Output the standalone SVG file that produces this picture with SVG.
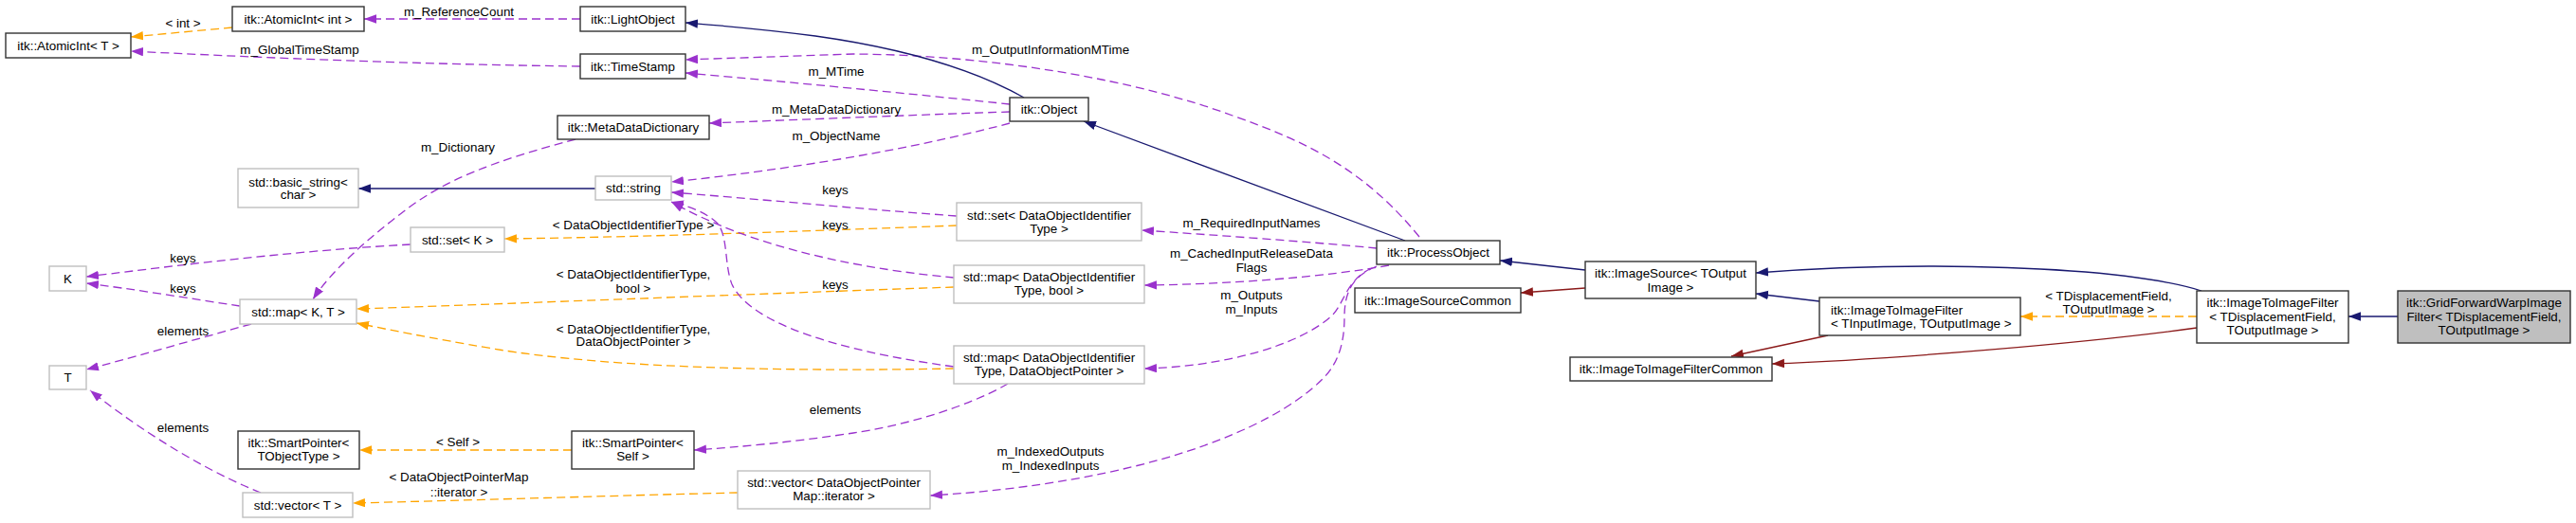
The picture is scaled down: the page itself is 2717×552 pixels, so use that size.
<svg xmlns="http://www.w3.org/2000/svg" width="2717" height="552" viewBox="0 0 2717 552">
<style>
text{font-family:"Liberation Sans",Arial,Helvetica,sans-serif;font-size:13.4px;fill:#000;text-anchor:middle}
.nb rect{fill:#fff;stroke:#333;stroke-width:1.4}
.ng rect{fill:#fff;stroke:#bfbfbf;stroke-width:1.4}
.ns rect{fill:#bfbfbf;stroke:#333;stroke-width:1.4}
.e{fill:none;stroke-width:1.3}
.nav{stroke:#191970;marker-end:url(#aN)}
.red{stroke:#8b1a1a;marker-end:url(#aR)}
.org{stroke:#ffa500;stroke-dasharray:9,5;marker-end:url(#aO)}
.pur{stroke:#9a32cd;stroke-dasharray:9,5;marker-end:url(#aP)}
</style>
<defs>
<marker id="aN" markerUnits="userSpaceOnUse" markerWidth="14" markerHeight="10" refX="13" refY="4.7" orient="auto"><path d="M0,0 L13,4.7 L0,9.4 z" fill="#191970"/></marker>
<marker id="aR" markerUnits="userSpaceOnUse" markerWidth="14" markerHeight="10" refX="13" refY="4.7" orient="auto"><path d="M0,0 L13,4.7 L0,9.4 z" fill="#8b1a1a"/></marker>
<marker id="aO" markerUnits="userSpaceOnUse" markerWidth="14" markerHeight="10" refX="13" refY="4.7" orient="auto"><path d="M0,0 L13,4.7 L0,9.4 z" fill="#ffa500"/></marker>
<marker id="aP" markerUnits="userSpaceOnUse" markerWidth="14" markerHeight="10" refX="13" refY="4.7" orient="auto"><path d="M0,0 L13,4.7 L0,9.4 z" fill="#9a32cd"/></marker>
</defs>
<rect width="2717" height="552" fill="#fff"/>
<g id="connectors">
<path class="e nav" d="M2529,334 L2477,334"/>
<path class="e nav" d="M2322,307 C2280,294 2200,282 2040,281 C1950,281 1890,285 1852,288"/>
<path class="e red" d="M2317,346 C2200,362 2000,379 1869,384"/>
<path class="e org" d="M2317,334 L2131,334"/>
<path class="e nav" d="M1919,318 L1852,310"/>
<path class="e red" d="M1928,354 L1826,376"/>
<path class="e nav" d="M1672,285 L1582,275"/>
<path class="e red" d="M1672,304 L1604,309"/>
<path class="e nav" d="M1482,254 L1143,128"/>
<path class="e pur" d="M1497,250 C1440,180 1380,150 1300,122 C1200,85 1050,58 900,57 L723,63"/>
<path class="e pur" d="M1452,262 C1380,255 1280,248 1204,243"/>
<path class="e pur" d="M1465,280 C1400,292 1300,300 1207,301"/>
<path class="e pur" d="M1447,283 C1420,295 1418,320 1405,333 C1370,365 1290,387 1207,389"/>
<path class="e pur" d="M1452,281 C1425,292 1418,310 1418,335 C1418,365 1410,385 1395,400 C1340,455 1200,510 981,523"/>
<path class="e nav" d="M1080,103 C1030,75 960,52 860,38 C800,30 760,27 723,24"/>
<path class="e pur" d="M1065,110 C1000,103 850,88 723,77"/>
<path class="e pur" d="M1065,118 C1000,120 850,126 748,130"/>
<path class="e pur" d="M1065,130 C990,150 870,175 708,192"/>
<path class="e pur" d="M612,20 L384,20"/>
<path class="e pur" d="M612,70 C450,68 300,62 138,54"/>
<path class="e org" d="M245,29 L138,39"/>
<path class="e pur" d="M607,147 C520,170 470,190 430,220 C390,250 350,285 330,316"/>
<path class="e nav" d="M628,199 L378,199"/>
<path class="e pur" d="M1009,228 C900,220 800,210 708,203"/>
<path class="e org" d="M1009,238 C900,242 700,250 532,252"/>
<path class="e pur" d="M1006,293 C920,285 800,265 708,213"/>
<path class="e org" d="M1006,303 C800,310 500,322 376,326"/>
<path class="e pur" d="M1006,387 C880,370 790,340 772,300 C764,280 768,250 757,236 C745,224 725,217 708,213"/>
<path class="e pur" d="M1063,405 C1020,430 950,450 900,457 C840,466 780,472 732,475"/>
<path class="e org" d="M1006,389 C850,392 650,390 520,368 C450,356 410,348 376,341"/>
<path class="e pur" d="M433,258 C300,265 150,285 91,292"/>
<path class="e pur" d="M253,323 C200,315 140,305 91,299"/>
<path class="e pur" d="M265,342 C200,360 130,380 91,390"/>
<path class="e pur" d="M275,520 C200,490 130,440 95,412"/>
<path class="e org" d="M603,475 L379,475"/>
<path class="e org" d="M778,520 C650,523 500,528 372,531"/>
<g id="edge-labels">
<text x="2224" y="316.5">&lt; TDisplacementField,</text>
<text x="2224" y="330.5">TOutputImage &gt;</text>
<text x="1108" y="56.5">m_OutputInformationMTime</text>
<text x="1320" y="240">m_RequiredInputNames</text>
<text x="1320" y="272">m_CachedInputReleaseData</text>
<text x="1320" y="286.5">Flags</text>
<text x="1320" y="316">m_Outputs</text>
<text x="1320" y="331">m_Inputs</text>
<text x="1108" y="480.5">m_IndexedOutputs</text>
<text x="1108" y="495.5">m_IndexedInputs</text>
<text x="882" y="79.5">m_MTime</text>
<text x="882" y="119.5">m_MetaDataDictionary</text>
<text x="882" y="147.5">m_ObjectName</text>
<text x="484" y="16.5">m_ReferenceCount</text>
<text x="316" y="56.5">m_GlobalTimeStamp</text>
<text x="193" y="28.5">&lt; int &gt;</text>
<text x="483" y="159.5">m_Dictionary</text>
<text x="881" y="204.5">keys</text>
<text x="881" y="241.5">keys</text>
<text x="881" y="304.5">keys</text>
<text x="668" y="241.5">&lt; DataObjectIdentifierType &gt;</text>
<text x="668" y="293.5">&lt; DataObjectIdentifierType,</text>
<text x="668" y="308.5">bool &gt;</text>
<text x="668" y="351.5">&lt; DataObjectIdentifierType,</text>
<text x="668" y="365">DataObjectPointer &gt;</text>
<text x="881" y="436.5">elements</text>
<text x="193" y="276.5">keys</text>
<text x="193" y="308.5">keys</text>
<text x="193" y="353.5">elements</text>
<text x="193" y="455.5">elements</text>
<text x="483" y="470.5">&lt; Self &gt;</text>
<text x="484" y="507.5">&lt; DataObjectPointerMap</text>
<text x="484" y="523.5">::iterator &gt;</text>
</g>
</g>
<g id="n_atomicT" class="nb"><rect x="6" y="35" width="132" height="26"/><text x="72" y="52.5">itk::AtomicInt&lt; T &gt;</text></g>
<g id="n_atomicInt" class="nb"><rect x="245" y="7" width="139" height="26"/><text x="314.5" y="24.5">itk::AtomicInt&lt; int &gt;</text></g>
<g id="n_lightobject" class="nb"><rect x="612" y="7" width="111" height="26"/><text x="667.5" y="24.5">itk::LightObject</text></g>
<g id="n_timestamp" class="nb"><rect x="612" y="57" width="111" height="26"/><text x="667.5" y="74.5">itk::TimeStamp</text></g>
<g id="n_mdd" class="nb"><rect x="588" y="122" width="160" height="25"/><text x="668" y="139">itk::MetaDataDictionary</text></g>
<g id="n_object" class="nb"><rect x="1065" y="103" width="83" height="25"/><text x="1106.5" y="120">itk::Object</text></g>
<g id="n_basicstring" class="ng"><rect x="251" y="178" width="127" height="41"/><text x="314.5" y="196.5">std::basic_string&lt;</text><text x="314.5" y="209.5">char &gt;</text></g>
<g id="n_string" class="ng"><rect x="628" y="186" width="80" height="25"/><text x="668" y="203">std::string</text></g>
<g id="n_setK" class="ng"><rect x="433" y="240" width="99" height="26"/><text x="482.5" y="257.5">std::set&lt; K &gt;</text></g>
<g id="n_K" class="ng"><rect x="52" y="281" width="39" height="26"/><text x="71.5" y="298.5">K</text></g>
<g id="n_mapKT" class="ng"><rect x="253" y="316" width="123" height="26"/><text x="314.5" y="333.5">std::map&lt; K, T &gt;</text></g>
<g id="n_T" class="ng"><rect x="52" y="386" width="39" height="25"/><text x="71.5" y="403">T</text></g>
<g id="n_spTObj" class="nb"><rect x="251" y="455" width="128" height="40"/><text x="315" y="471.5">itk::SmartPointer&lt;</text><text x="315" y="485.5">TObjectType &gt;</text></g>
<g id="n_vecT" class="ng"><rect x="256" y="520" width="116" height="26"/><text x="314" y="537.5">std::vector&lt; T &gt;</text></g>
<g id="n_setDOIT" class="ng"><rect x="1009" y="214" width="195" height="40"/><text x="1106.5" y="231.5">std::set&lt; DataObjectIdentifier</text><text x="1106.5" y="245.5">Type &gt;</text></g>
<g id="n_mapBool" class="ng"><rect x="1006" y="280" width="201" height="40"/><text x="1106.5" y="296.5">std::map&lt; DataObjectIdentifier</text><text x="1106.5" y="310.5">Type, bool &gt;</text></g>
<g id="n_mapDOP" class="ng"><rect x="1006" y="365" width="201" height="40"/><text x="1106.5" y="381.5">std::map&lt; DataObjectIdentifier</text><text x="1106.5" y="395.5">Type, DataObjectPointer &gt;</text></g>
<g id="n_spSelf" class="nb"><rect x="603" y="455" width="129" height="40"/><text x="667.5" y="471.5">itk::SmartPointer&lt;</text><text x="667.5" y="485.5">Self &gt;</text></g>
<g id="n_vecDOPM" class="ng"><rect x="778" y="497" width="203" height="40"/><text x="879.5" y="513.5">std::vector&lt; DataObjectPointer</text><text x="879.5" y="528">Map::iterator &gt;</text></g>
<g id="n_processobject" class="nb"><rect x="1452" y="254" width="130" height="25"/><text x="1517" y="271">itk::ProcessObject</text></g>
<g id="n_isc" class="nb"><rect x="1429" y="304" width="175" height="26"/><text x="1516.5" y="321.5">itk::ImageSourceCommon</text></g>
<g id="n_imagesource" class="nb"><rect x="1672" y="276" width="180" height="39"/><text x="1762" y="292.5">itk::ImageSource&lt; TOutput</text><text x="1762" y="307.5">Image &gt;</text></g>
<g id="n_itifc" class="nb"><rect x="1656" y="377" width="213" height="25"/><text x="1762.5" y="394">itk::ImageToImageFilterCommon</text></g>
<g id="n_itifIn" class="nb"><rect x="1919" y="314" width="212" height="40"/><text x="1931" y="331.5" style="text-anchor:start">itk::ImageToImageFilter</text><text x="1931" y="345.5" style="text-anchor:start">&lt; TInputImage, TOutputImage &gt;</text></g>
<g id="n_itifDisp" class="nb"><rect x="2317" y="307" width="160" height="55"/><text x="2397" y="323.5">itk::ImageToImageFilter</text><text x="2397" y="338.5">&lt; TDisplacementField,</text><text x="2397" y="352.5">TOutputImage &gt;</text></g>
<g id="n_grid" class="ns"><rect x="2529" y="307" width="182" height="55"/><text x="2620" y="323.5">itk::GridForwardWarpImage</text><text x="2620" y="338.5">Filter&lt; TDisplacementField,</text><text x="2620" y="352.5">TOutputImage &gt;</text></g>
</svg>
